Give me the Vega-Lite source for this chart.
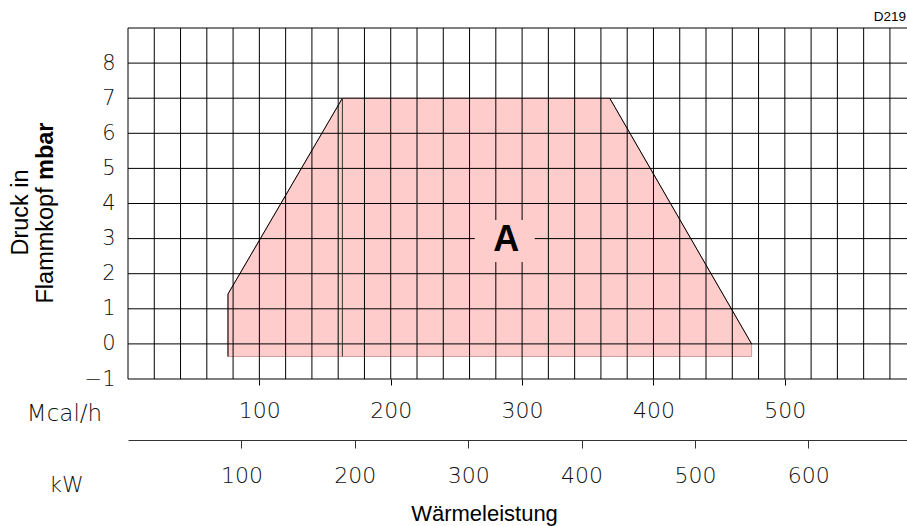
{
  "$schema": "https://vega.github.io/schema/vega-lite/v6.json",
  "width": 779,
  "height": 351,
  "autosize": {"type": "none"},
  "padding": {"left": 128, "top": 28, "right": 0, "bottom": 147},
  "background": "white",
  "title": {"text": "D219", "orient": "top", "anchor": "end", "frame": "group", "font": "Liberation Sans", "fontSize": 13.5, "fontWeight": "normal", "color": "#000", "baseline": "alphabetic", "offset": -7, "dx": -1},
  "config": {"view": {"stroke": null}, "axis": {"labelOverlap": false}},
  "datasets": {
    "polygon": [
      {"mcal": 76.1, "top": 1.42, "bottom": -0.36},
      {"mcal": 163.2, "top": 7, "bottom": -0.36},
      {"mcal": 366.7, "top": 7, "bottom": -0.36},
      {"mcal": 474.7, "top": 0, "bottom": -0.36}
    ],
    "gridx": [
      {"mcal": 0}, {"mcal": 20}, {"mcal": 40}, {"mcal": 60}, {"mcal": 80}, {"mcal": 100},
      {"mcal": 120}, {"mcal": 140}, {"mcal": 160}, {"mcal": 180}, {"mcal": 200},
      {"mcal": 220}, {"mcal": 240}, {"mcal": 260}, {"mcal": 280}, {"mcal": 300},
      {"mcal": 320}, {"mcal": 340}, {"mcal": 360}, {"mcal": 380}, {"mcal": 400},
      {"mcal": 420}, {"mcal": 440}, {"mcal": 460}, {"mcal": 480}, {"mcal": 500},
      {"mcal": 520}, {"mcal": 540}, {"mcal": 560}, {"mcal": 580}
    ],
    "gridy": [
      {"mbar": -1}, {"mbar": 0}, {"mbar": 1}, {"mbar": 2}, {"mbar": 3}, {"mbar": 4},
      {"mbar": 5}, {"mbar": 6}, {"mbar": 7}, {"mbar": 8}, {"mbar": 9}
    ],
    "labelbox": [{"mcal": 264, "mcal2": 309.6, "mbar": 2.33, "mbar2": 3.53}],
    "label": [{"mcal": 288, "mbar": 2.96, "text": "A"}],
    "outline": [
      {"seg": "left", "i": 1, "mcal": 76.1, "mbar": -0.36},
      {"seg": "left", "i": 2, "mcal": 76.1, "mbar": 1.42},
      {"seg": "left", "i": 3, "mcal": 163.2, "mbar": 7},
      {"seg": "right", "i": 1, "mcal": 366.7, "mbar": 7},
      {"seg": "right", "i": 2, "mcal": 474.7, "mbar": 0}
    ],
    "divider": [{"mcal": 163.2, "mbar": -0.36, "mbar2": 7}],
    "kwref": [{"kw": 100, "mbar": 0}]
  },
  "layer": [
    {
      "layer": [
        {
          "data": {"name": "polygon"},
          "mark": {"type": "area", "color": "#ffcccc", "stroke": "#d09a9a", "strokeWidth": 1, "opacity": 1},
          "encoding": {
            "x": {
              "field": "mcal", "type": "quantitative",
              "scale": {"domain": [0, 593], "nice": false, "zero": false},
              "axis": {
                "orient": "bottom", "values": [100, 200, 300, 400, 500], "tickCount": 50, "format": "d", "grid": false, "domain": false, "labelOverlap": false,
                "ticks": true, "tickSize": 6, "tickColor": "#000", "tickWidth": 1,
                "labelFont": "DejaVu Sans", "labelFontWeight": 200, "labelFontSize": 22, "labelColor": "#111", "labelPadding": 15,
                "title": "Mcal/h", "titleAngle": 0, "titleX": -64, "titleY": 34, "titleAlign": "center", "titleBaseline": "middle",
                "titleFont": "DejaVu Sans", "titleFontWeight": 200, "titleFontSize": 23, "titleColor": "#111"
              }
            },
            "y": {
              "field": "top", "type": "quantitative",
              "scale": {"domain": [-1, 9], "nice": false, "zero": false},
              "axis": {
                "orient": "left", "values": [-1, 0, 1, 2, 3, 4, 5, 6, 7, 8], "tickCount": 50, "format": "d", "grid": false, "domain": false,
                "labelOverlap": false,
                "ticks": false, "tickSize": 0, "labelPadding": 13,
                "labelFont": "DejaVu Sans", "labelFontWeight": 200, "labelFontSize": 21, "labelColor": "#111",
                "title": "Flammkopf", "titleAngle": 270, "titleX": -76, "titleY": 275,
                "titleAlign": "left", "titleBaseline": "alphabetic",
                "titleFont": "Liberation Sans", "titleFontWeight": "normal", "titleFontSize": 23.5, "titleColor": "#000"
              }
            },
            "y2": {"field": "bottom"}
          }
        },
        {
          "data": {"name": "gridx"},
          "mark": {"type": "rule", "color": "#000", "strokeWidth": 1},
          "encoding": {
            "x": {"field": "mcal", "type": "quantitative", "scale": {"domain": [0, 593], "nice": false, "zero": false}}
          }
        },
        {
          "data": {"name": "gridy"},
          "mark": {"type": "rule", "color": "#000", "strokeWidth": 1},
          "encoding": {
            "y": {"field": "mbar", "type": "quantitative", "scale": {"domain": [-1, 9], "nice": false, "zero": false}}
          }
        },
        {
          "data": {"name": "labelbox"},
          "mark": {"type": "rect", "color": "#ffcccc"},
          "encoding": {
            "x": {"field": "mcal", "type": "quantitative"},
            "x2": {"field": "mcal2"},
            "y": {"field": "mbar", "type": "quantitative"},
            "y2": {"field": "mbar2"}
          }
        },
        {
          "data": {"name": "label"},
          "mark": {"type": "text", "font": "Liberation Sans", "fontWeight": "bold", "fontSize": 36, "color": "#000", "align": "center", "baseline": "middle"},
          "encoding": {
            "x": {"field": "mcal", "type": "quantitative"},
            "y": {"field": "mbar", "type": "quantitative"},
            "text": {"field": "text"}
          }
        },
        {
          "data": {"name": "outline"},
          "mark": {"type": "line", "color": "#000", "strokeWidth": 1},
          "encoding": {
            "x": {"field": "mcal", "type": "quantitative"},
            "y": {"field": "mbar", "type": "quantitative"},
            "detail": {"field": "seg"},
            "order": {"field": "i"}
          }
        },
        {
          "data": {"name": "divider"},
          "mark": {"type": "rule", "color": "#333", "strokeWidth": 1},
          "encoding": {
            "x": {"field": "mcal", "type": "quantitative"},
            "y": {"field": "mbar", "type": "quantitative"},
            "y2": {"field": "mbar2"}
          }
        }
      ]
    },
    {
      "data": {"name": "kwref"},
      "mark": {"type": "point", "opacity": 0},
      "encoding": {
        "x": {
          "field": "kw", "type": "quantitative",
          "scale": {"domain": [0, 687], "nice": false, "zero": false},
          "axis": {
            "orient": "bottom", "offset": 61, "values": [100, 200, 300, 400, 500, 600], "tickCount": 50, "format": "d", "grid": false, "labelOverlap": false,
            "domain": true, "domainColor": "#333", "domainWidth": 1,
            "ticks": true, "tickSize": 8, "tickColor": "#333", "tickWidth": 1,
            "labelFont": "DejaVu Sans", "labelFontWeight": 200, "labelFontSize": 22, "labelColor": "#111", "labelPadding": 17,
            "title": "kW", "titleAngle": 0, "titleX": -62, "titleY": 44, "titleAlign": "center", "titleBaseline": "middle",
            "titleFont": "DejaVu Sans", "titleFontWeight": 200, "titleFontSize": 22, "titleColor": "#111"
          }
        },
        "y": {
          "field": "mbar", "type": "quantitative",
          "scale": {"domain": [-1, 9], "nice": false, "zero": false},
          "axis": {
            "orient": "left", "labels": false, "ticks": false, "domain": false, "grid": false,
            "title": "mbar", "titleAngle": 270, "titleX": -76, "titleY": 94, "titleAlign": "right", "titleBaseline": "alphabetic",
            "titleFont": "Liberation Sans", "titleFontWeight": "bold", "titleFontSize": 23.5, "titleColor": "#000"
          }
        }
      }
    },
    {
      "data": {"name": "kwref"},
      "mark": {"type": "point", "opacity": 0},
      "encoding": {
        "x": {
          "field": "kw", "type": "quantitative",
          "scale": {"domain": [0, 687], "nice": false, "zero": false},
          "axis": {
            "orient": "bottom", "labels": false, "ticks": false, "domain": false, "grid": false,
            "title": "Wärmeleistung", "titleAngle": 0, "titleX": 356, "titleY": 134, "titleAlign": "center", "titleBaseline": "middle",
            "titleFont": "Liberation Sans", "titleFontWeight": "normal", "titleFontSize": 22, "titleColor": "#000"
          }
        },
        "y": {
          "field": "mbar", "type": "quantitative",
          "scale": {"domain": [-1, 9], "nice": false, "zero": false},
          "axis": {
            "orient": "left", "labels": false, "ticks": false, "domain": false, "grid": false,
            "title": "Druck in", "titleAngle": 270, "titleX": -101, "titleY": 184, "titleAlign": "center", "titleBaseline": "alphabetic",
            "titleFont": "Liberation Sans", "titleFontWeight": "normal", "titleFontSize": 23.5, "titleColor": "#000"
          }
        }
      }
    }
  ],
  "resolve": {
    "scale": {"x": "independent", "y": "independent"},
    "axis": {"x": "independent", "y": "independent"}
  }
}
